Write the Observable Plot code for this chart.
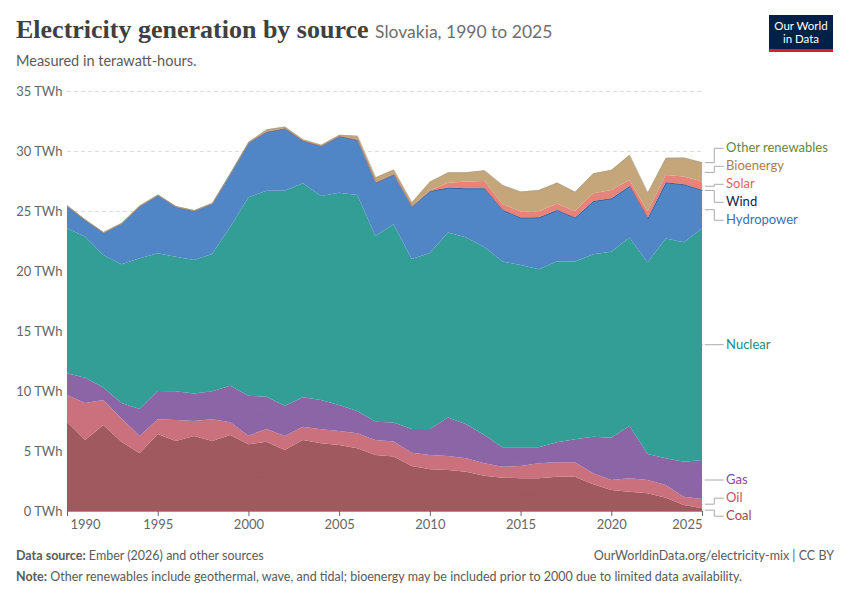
<!DOCTYPE html>
<html><head><meta charset="utf-8">
<script src="https://cdn.jsdelivr.net/npm/d3@7"></script>
<script src="https://cdn.jsdelivr.net/npm/@observablehq/plot@0.6"></script>
<style>
body{margin:0;background:#fff;font-family:Lato,sans-serif;}
#wrap{position:relative;width:850px;height:600px;}
#title{position:absolute;left:16px;top:15px;font-family:"Liberation Serif",serif;font-size:26px;font-weight:bold;color:#404040;white-space:nowrap}
#title span{font-family:Lato,sans-serif;font-weight:normal;font-size:17.5px;color:#6e6e6e;letter-spacing:0}
#sub{position:absolute;left:16px;top:52px;font-size:14.5px;color:#5b5b5b}
#logo{position:absolute;left:769px;top:15px;width:64px;height:37px;background:#002147;border-bottom:3px solid #ce261e;color:#fff;font-size:11.5px;line-height:13px;text-align:center;box-sizing:border-box;padding-top:4px}
#chart{position:absolute;left:0;top:75px}
.foot{position:absolute;font-size:12.5px;color:#5b5b5b}
</style></head><body>
<div id="wrap">
<div id="title">Electricity generation by source <span>Slovakia, 1990 to 2025</span></div>
<div id="sub">Measured in terawatt-hours.</div>
<div id="logo">Our World<br>in Data</div>
<div id="chart"></div>
<div class="foot" style="left:16px;top:548px"><b>Data source:</b> Ember (2026) and other sources</div>
<div class="foot" style="right:16px;top:548px">OurWorldinData.org/electricity-mix | CC BY</div>
<div class="foot" style="left:16px;top:569px"><b>Note:</b> Other renewables include geothermal, wave, and tidal; bioenergy may be included prior to 2000 due to limited data availability.</div>
</div>
<script>
const years = d3.range(1990, 2026);
const coal = [7.44,5.92,7.17,5.78,4.81,6.42,5.83,6.25,5.83,6.33,5.56,5.78,5.08,5.92,5.64,5.5,5.22,4.67,4.55,3.75,3.47,3.42,3.28,2.94,2.78,2.72,2.72,2.86,2.86,2.22,1.75,1.61,1.47,1.11,0.5,0.22];
const oil = [2.23,3.08,2.08,1.94,1.44,1.22,1.75,1.25,1.81,1.06,0.72,1.05,1.17,1.11,1.17,1.17,1.25,1.25,1.25,1.11,1.2,1.16,1.11,1.03,0.91,1.03,1.25,1.2,1.2,0.92,0.83,1.11,1.11,1.06,0.69,0.78];
const gas = [1.8,2.1,1.05,1.28,2.25,2.36,2.39,2.3,2.33,3.05,3.32,2.7,2.53,2.44,2.44,2.16,1.86,1.52,1.57,1.97,2.16,3.22,2.83,2.36,1.62,1.56,1.34,1.66,1.91,3.05,3.53,4.39,2.17,2.22,2.92,3.25];
const nuclear = [12.09,11.76,11.03,11.56,12.56,11.47,11.22,11.12,11.45,13.25,16.54,17.16,17.91,17.84,17.0,17.7,18.0,15.48,16.53,14.17,14.67,15.4,15.58,15.67,15.49,15.19,14.84,15.08,14.83,15.21,15.49,15.69,15.95,18.31,18.29,19.3];
const hydro = [1.86,1.39,1.87,3.41,4.36,4.86,4.17,4.11,4.22,4.45,4.58,4.92,5.2,3.55,4.17,4.72,4.59,4.44,4.15,4.36,5.17,3.74,4.09,4.89,4.28,3.95,4.32,4.28,3.65,4.43,4.46,4.28,3.69,4.69,4.82,3.2];
const wind = [0,0,0,0,0,0,0,0,0,0,0,0,0,0.01,0.01,0.01,0.01,0.01,0.01,0.01,0.01,0.01,0.01,0.01,0.01,0.01,0.01,0.01,0.01,0.01,0.01,0.01,0.01,0.01,0.01,0.01];
const solar = [0,0,0,0,0,0,0,0,0,0,0,0,0,0,0,0,0,0,0,0,0.02,0.4,0.55,0.6,0.5,0.5,0.5,0.52,0.55,0.64,0.69,0.5,0.58,0.6,0.64,0.69];
const bioenergy = [0.05,0.05,0.05,0.05,0.05,0.05,0.05,0.05,0.05,0.05,0.05,0.2,0.15,0.1,0.1,0.1,0.35,0.45,0.4,0.35,0.75,0.88,0.78,0.9,1.58,1.66,1.78,1.76,1.6,1.67,1.67,2.1,1.56,1.44,1.58,1.62];
const other = years.map(() => 0);
const sources = ["Coal","Oil","Gas","Nuclear","Hydropower","Wind","Solar","Bioenergy","Other renewables"];
const series = [coal,oil,gas,nuclear,hydro,wind,solar,bioenergy,other];
const fills = ["#a0595f","#cb707d","#8b65a6","#339e96","#5186c6","#1a3c6e","#e8837a","#c5a57a","#9aa58c"];
const labelColors = ["#a2484f","#c2526a","#7d4c9e","#23897f","#3c6fb8","#0b2550","#e0665a","#a97f4c","#5e8a3d"];
const yTicks = [0,5,10,15,20,25,30,35];
const xTicks = d3.range(1990,2026,5);

const data = [];
sources.forEach((s,i) => years.forEach((y,j) => data.push({source:s, year:y, value:series[i][j]})));

const last = years.length-1;
let cum = 0;
const labs = sources.map((s,i) => { const v = series[i][last]; const mid = cum + v/2; cum += v; return {source:s, mid, y:mid, color:labelColors[i]}; });
const gap = 1.5;
for (let it=0; it<200; it++) {
  for (let i=1;i<labs.length;i++) {
    const d = labs[i].y - labs[i-1].y;
    if (d < gap) { const s=(gap-d)/2; labs[i].y += s; labs[i-1].y -= s; }
  }
}
const conn = [];
labs.forEach(l => {
  conn.push({source:l.source,x:2025.15,y:l.mid},{source:l.source,x:2025.65,y:l.mid},{source:l.source,x:2025.65,y:l.y},{source:l.source,x:2026.15,y:l.y});
});

const chart = Plot.plot({
  width:850, height:460, marginLeft:67, marginRight:148, marginTop:16, marginBottom:24,
  style:{fontFamily:"Lato, sans-serif", fontSize:"13px", color:"#666", overflow:"visible"},
  x:{domain:[1990,2025], label:null},
  y:{domain:[0,35], label:null},
  color:{domain:sources, range:fills},
  marks:[
    Plot.ruleY(yTicks.filter(d=>d>0), {stroke:"#ddd", strokeDasharray:"4,3"}),
    Plot.areaY(data, {x:"year", y:"value", fill:"source", order:sources, z:"source"}),
    Plot.lineY(data, Plot.stackY({x:"year", y:"value", z:"source", order:sources, stroke:"source", strokeWidth:0.6, strokeOpacity:0.8})),
    Plot.ruleY([0], {stroke:"#999"}),
    Plot.axisY({ticks:yTicks, tickFormat:d=>d+" TWh", tickSize:0, tickPadding:5, label:null}),
    Plot.axisX({ticks:xTicks, tickFormat:d=>String(d), tickSize:5, label:null, text:null}),
    Plot.axisX({ticks:xTicks.slice(1,-1), tickFormat:d=>String(d), tickSize:0, tickPadding:8, label:null}),
    Plot.axisX({ticks:[1990], tickFormat:d=>String(d), tickSize:0, tickPadding:8, textAnchor:"start", dx:3, label:null}),
    Plot.axisX({ticks:[2025], tickFormat:d=>String(d), tickSize:0, tickPadding:8, textAnchor:"end", dx:0, label:null}),
    Plot.line(conn, {x:"x", y:"y", z:"source", stroke:"#aaa", strokeWidth:1, clip:false}),
    Plot.text(labs, {x:2026.3, y:"y", text:"source", fill:d=>d.color, textAnchor:"start", fontSize:13, clip:false})
  ]
});
document.getElementById("chart").appendChild(chart);
</script>
</body></html>
